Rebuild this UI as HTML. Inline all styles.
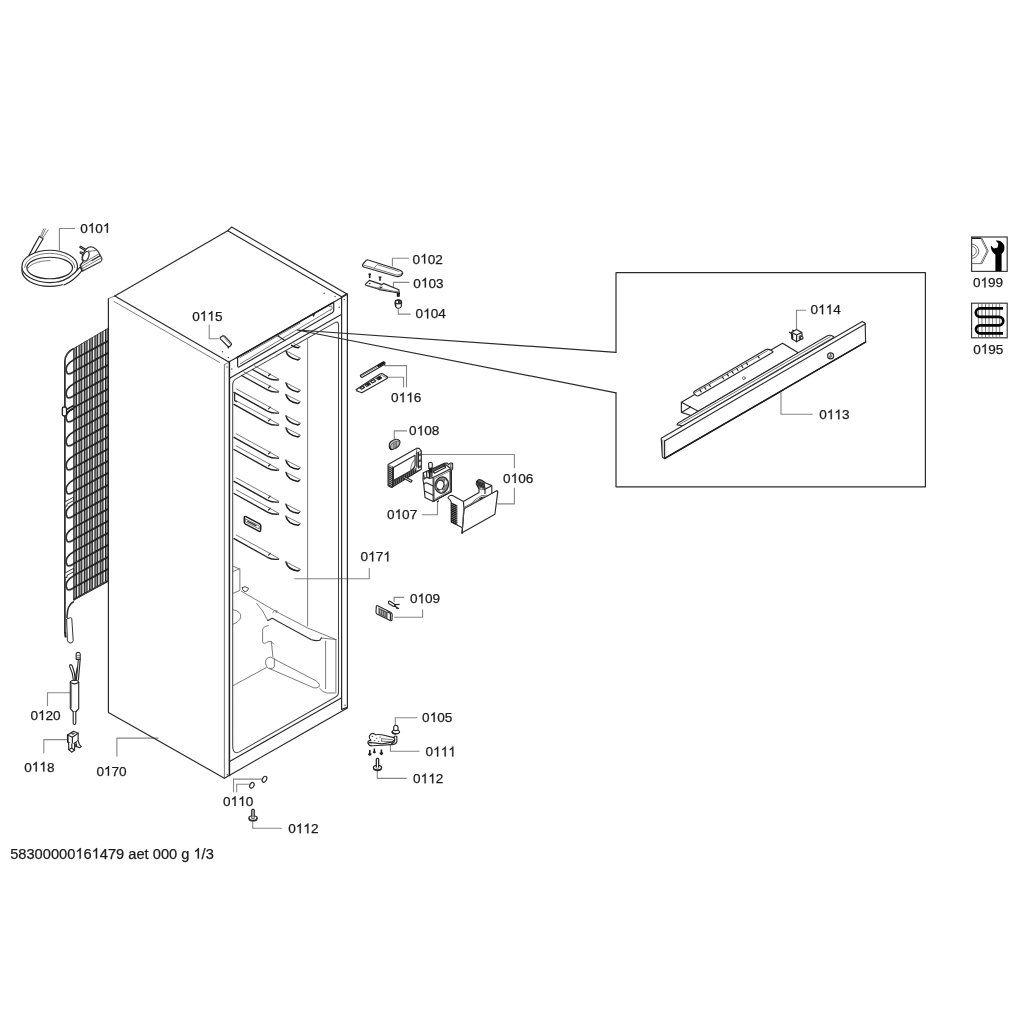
<!DOCTYPE html>
<html><head><meta charset="utf-8"><title>diagram</title>
<style>
html,body{margin:0;padding:0;background:#fff;}
body{width:1024px;height:1024px;overflow:hidden;font-family:"Liberation Sans",sans-serif;}
svg{display:block;position:absolute;left:0;top:0;filter:blur(0.35px)}
.m{fill:none;stroke:#2b2b2b;stroke-width:1.2;stroke-linecap:round;stroke-linejoin:round}
.mw{fill:#fff;stroke:#2b2b2b;stroke-width:1.15;stroke-linecap:round;stroke-linejoin:round}
.r{fill:none;stroke:#222;stroke-width:1.35;stroke-linecap:round;stroke-linejoin:round}
.t{fill:none;stroke:#5a5a5a;stroke-width:0.8;stroke-linecap:round;stroke-linejoin:round}
.tw{fill:#fff;stroke:#5a5a5a;stroke-width:0.8;stroke-linecap:round;stroke-linejoin:round}
.h{fill:none;stroke:#1e1e1e;stroke-width:1.5;stroke-linecap:round;stroke-linejoin:round}
.l{fill:none;stroke:#868686;stroke-width:1.1;stroke-linejoin:miter}
.k{fill:#1a1a1a;stroke:none}
.g{fill:#555;stroke:none}
.tx{font-family:"Liberation Sans",sans-serif;fill:#1a1a1a;stroke:#1a1a1a;stroke-width:0.25}
</style></head><body>
<svg width="1024" height="1024" viewBox="0 0 1024 1024">
<g opacity="0.99">
<text class="tx" x="80.20" y="232.80" font-size="13.6">0</text>
<path class="tx" transform="translate(87.76 232.80) scale(13.6)" style="stroke-width:0.0184" d="M0.3726 0L0.2847 0L0.2847 -0.5601Q0.2529 -0.5298 0.2014 -0.4995Q0.1499 -0.4692 0.1089 -0.4541L0.1089 -0.5391Q0.1826 -0.5737 0.2378 -0.6230Q0.2930 -0.6724 0.3159 -0.7188L0.3726 -0.7188Z"/>
<text class="tx" x="95.32" y="232.80" font-size="13.6">0</text>
<path class="tx" transform="translate(102.88 232.80) scale(13.6)" style="stroke-width:0.0184" d="M0.3726 0L0.2847 0L0.2847 -0.5601Q0.2529 -0.5298 0.2014 -0.4995Q0.1499 -0.4692 0.1089 -0.4541L0.1089 -0.5391Q0.1826 -0.5737 0.2378 -0.6230Q0.2930 -0.6724 0.3159 -0.7188L0.3726 -0.7188Z"/>
<text class="tx" x="412.60" y="263.60" font-size="13.6">0</text>
<path class="tx" transform="translate(420.16 263.60) scale(13.6)" style="stroke-width:0.0184" d="M0.3726 0L0.2847 0L0.2847 -0.5601Q0.2529 -0.5298 0.2014 -0.4995Q0.1499 -0.4692 0.1089 -0.4541L0.1089 -0.5391Q0.1826 -0.5737 0.2378 -0.6230Q0.2930 -0.6724 0.3159 -0.7188L0.3726 -0.7188Z"/>
<text class="tx" x="427.72" y="263.60" font-size="13.6">02</text>
<text class="tx" x="413.30" y="287.50" font-size="13.6">0</text>
<path class="tx" transform="translate(420.86 287.50) scale(13.6)" style="stroke-width:0.0184" d="M0.3726 0L0.2847 0L0.2847 -0.5601Q0.2529 -0.5298 0.2014 -0.4995Q0.1499 -0.4692 0.1089 -0.4541L0.1089 -0.5391Q0.1826 -0.5737 0.2378 -0.6230Q0.2930 -0.6724 0.3159 -0.7188L0.3726 -0.7188Z"/>
<text class="tx" x="428.42" y="287.50" font-size="13.6">03</text>
<text class="tx" x="415.60" y="318.40" font-size="13.6">0</text>
<path class="tx" transform="translate(423.16 318.40) scale(13.6)" style="stroke-width:0.0184" d="M0.3726 0L0.2847 0L0.2847 -0.5601Q0.2529 -0.5298 0.2014 -0.4995Q0.1499 -0.4692 0.1089 -0.4541L0.1089 -0.5391Q0.1826 -0.5737 0.2378 -0.6230Q0.2930 -0.6724 0.3159 -0.7188L0.3726 -0.7188Z"/>
<text class="tx" x="430.72" y="318.40" font-size="13.6">04</text>
<text class="tx" x="192.20" y="320.80" font-size="13.6">0</text>
<path class="tx" transform="translate(199.76 320.80) scale(13.6)" style="stroke-width:0.0184" d="M0.3726 0L0.2847 0L0.2847 -0.5601Q0.2529 -0.5298 0.2014 -0.4995Q0.1499 -0.4692 0.1089 -0.4541L0.1089 -0.5391Q0.1826 -0.5737 0.2378 -0.6230Q0.2930 -0.6724 0.3159 -0.7188L0.3726 -0.7188Z"/>
<path class="tx" transform="translate(207.32 320.80) scale(13.6)" style="stroke-width:0.0184" d="M0.3726 0L0.2847 0L0.2847 -0.5601Q0.2529 -0.5298 0.2014 -0.4995Q0.1499 -0.4692 0.1089 -0.4541L0.1089 -0.5391Q0.1826 -0.5737 0.2378 -0.6230Q0.2930 -0.6724 0.3159 -0.7188L0.3726 -0.7188Z"/>
<text class="tx" x="214.88" y="320.80" font-size="13.6">5</text>
<text class="tx" x="391.10" y="402.20" font-size="13.6">0</text>
<path class="tx" transform="translate(398.66 402.20) scale(13.6)" style="stroke-width:0.0184" d="M0.3726 0L0.2847 0L0.2847 -0.5601Q0.2529 -0.5298 0.2014 -0.4995Q0.1499 -0.4692 0.1089 -0.4541L0.1089 -0.5391Q0.1826 -0.5737 0.2378 -0.6230Q0.2930 -0.6724 0.3159 -0.7188L0.3726 -0.7188Z"/>
<path class="tx" transform="translate(406.22 402.20) scale(13.6)" style="stroke-width:0.0184" d="M0.3726 0L0.2847 0L0.2847 -0.5601Q0.2529 -0.5298 0.2014 -0.4995Q0.1499 -0.4692 0.1089 -0.4541L0.1089 -0.5391Q0.1826 -0.5737 0.2378 -0.6230Q0.2930 -0.6724 0.3159 -0.7188L0.3726 -0.7188Z"/>
<text class="tx" x="413.78" y="402.20" font-size="13.6">6</text>
<text class="tx" x="409.10" y="435.40" font-size="13.6">0</text>
<path class="tx" transform="translate(416.66 435.40) scale(13.6)" style="stroke-width:0.0184" d="M0.3726 0L0.2847 0L0.2847 -0.5601Q0.2529 -0.5298 0.2014 -0.4995Q0.1499 -0.4692 0.1089 -0.4541L0.1089 -0.5391Q0.1826 -0.5737 0.2378 -0.6230Q0.2930 -0.6724 0.3159 -0.7188L0.3726 -0.7188Z"/>
<text class="tx" x="424.22" y="435.40" font-size="13.6">08</text>
<text class="tx" x="503.10" y="483.10" font-size="13.6">0</text>
<path class="tx" transform="translate(510.66 483.10) scale(13.6)" style="stroke-width:0.0184" d="M0.3726 0L0.2847 0L0.2847 -0.5601Q0.2529 -0.5298 0.2014 -0.4995Q0.1499 -0.4692 0.1089 -0.4541L0.1089 -0.5391Q0.1826 -0.5737 0.2378 -0.6230Q0.2930 -0.6724 0.3159 -0.7188L0.3726 -0.7188Z"/>
<text class="tx" x="518.22" y="483.10" font-size="13.6">06</text>
<text class="tx" x="387.00" y="519.00" font-size="13.6">0</text>
<path class="tx" transform="translate(394.56 519.00) scale(13.6)" style="stroke-width:0.0184" d="M0.3726 0L0.2847 0L0.2847 -0.5601Q0.2529 -0.5298 0.2014 -0.4995Q0.1499 -0.4692 0.1089 -0.4541L0.1089 -0.5391Q0.1826 -0.5737 0.2378 -0.6230Q0.2930 -0.6724 0.3159 -0.7188L0.3726 -0.7188Z"/>
<text class="tx" x="402.12" y="519.00" font-size="13.6">07</text>
<text class="tx" x="360.60" y="561.40" font-size="13.6">0</text>
<path class="tx" transform="translate(368.16 561.40) scale(13.6)" style="stroke-width:0.0184" d="M0.3726 0L0.2847 0L0.2847 -0.5601Q0.2529 -0.5298 0.2014 -0.4995Q0.1499 -0.4692 0.1089 -0.4541L0.1089 -0.5391Q0.1826 -0.5737 0.2378 -0.6230Q0.2930 -0.6724 0.3159 -0.7188L0.3726 -0.7188Z"/>
<text class="tx" x="375.72" y="561.40" font-size="13.6">7</text>
<path class="tx" transform="translate(383.28 561.40) scale(13.6)" style="stroke-width:0.0184" d="M0.3726 0L0.2847 0L0.2847 -0.5601Q0.2529 -0.5298 0.2014 -0.4995Q0.1499 -0.4692 0.1089 -0.4541L0.1089 -0.5391Q0.1826 -0.5737 0.2378 -0.6230Q0.2930 -0.6724 0.3159 -0.7188L0.3726 -0.7188Z"/>
<text class="tx" x="409.90" y="603.30" font-size="13.6">0</text>
<path class="tx" transform="translate(417.46 603.30) scale(13.6)" style="stroke-width:0.0184" d="M0.3726 0L0.2847 0L0.2847 -0.5601Q0.2529 -0.5298 0.2014 -0.4995Q0.1499 -0.4692 0.1089 -0.4541L0.1089 -0.5391Q0.1826 -0.5737 0.2378 -0.6230Q0.2930 -0.6724 0.3159 -0.7188L0.3726 -0.7188Z"/>
<text class="tx" x="425.02" y="603.30" font-size="13.6">09</text>
<text class="tx" x="422.10" y="722.00" font-size="13.6">0</text>
<path class="tx" transform="translate(429.66 722.00) scale(13.6)" style="stroke-width:0.0184" d="M0.3726 0L0.2847 0L0.2847 -0.5601Q0.2529 -0.5298 0.2014 -0.4995Q0.1499 -0.4692 0.1089 -0.4541L0.1089 -0.5391Q0.1826 -0.5737 0.2378 -0.6230Q0.2930 -0.6724 0.3159 -0.7188L0.3726 -0.7188Z"/>
<text class="tx" x="437.22" y="722.00" font-size="13.6">05</text>
<text class="tx" x="425.60" y="756.40" font-size="13.6">0</text>
<path class="tx" transform="translate(433.16 756.40) scale(13.6)" style="stroke-width:0.0184" d="M0.3726 0L0.2847 0L0.2847 -0.5601Q0.2529 -0.5298 0.2014 -0.4995Q0.1499 -0.4692 0.1089 -0.4541L0.1089 -0.5391Q0.1826 -0.5737 0.2378 -0.6230Q0.2930 -0.6724 0.3159 -0.7188L0.3726 -0.7188Z"/>
<path class="tx" transform="translate(440.72 756.40) scale(13.6)" style="stroke-width:0.0184" d="M0.3726 0L0.2847 0L0.2847 -0.5601Q0.2529 -0.5298 0.2014 -0.4995Q0.1499 -0.4692 0.1089 -0.4541L0.1089 -0.5391Q0.1826 -0.5737 0.2378 -0.6230Q0.2930 -0.6724 0.3159 -0.7188L0.3726 -0.7188Z"/>
<path class="tx" transform="translate(448.28 756.40) scale(13.6)" style="stroke-width:0.0184" d="M0.3726 0L0.2847 0L0.2847 -0.5601Q0.2529 -0.5298 0.2014 -0.4995Q0.1499 -0.4692 0.1089 -0.4541L0.1089 -0.5391Q0.1826 -0.5737 0.2378 -0.6230Q0.2930 -0.6724 0.3159 -0.7188L0.3726 -0.7188Z"/>
<text class="tx" x="413.10" y="783.30" font-size="13.6">0</text>
<path class="tx" transform="translate(420.66 783.30) scale(13.6)" style="stroke-width:0.0184" d="M0.3726 0L0.2847 0L0.2847 -0.5601Q0.2529 -0.5298 0.2014 -0.4995Q0.1499 -0.4692 0.1089 -0.4541L0.1089 -0.5391Q0.1826 -0.5737 0.2378 -0.6230Q0.2930 -0.6724 0.3159 -0.7188L0.3726 -0.7188Z"/>
<path class="tx" transform="translate(428.22 783.30) scale(13.6)" style="stroke-width:0.0184" d="M0.3726 0L0.2847 0L0.2847 -0.5601Q0.2529 -0.5298 0.2014 -0.4995Q0.1499 -0.4692 0.1089 -0.4541L0.1089 -0.5391Q0.1826 -0.5737 0.2378 -0.6230Q0.2930 -0.6724 0.3159 -0.7188L0.3726 -0.7188Z"/>
<text class="tx" x="435.78" y="783.30" font-size="13.6">2</text>
<text class="tx" x="223.00" y="806.00" font-size="13.6">0</text>
<path class="tx" transform="translate(230.56 806.00) scale(13.6)" style="stroke-width:0.0184" d="M0.3726 0L0.2847 0L0.2847 -0.5601Q0.2529 -0.5298 0.2014 -0.4995Q0.1499 -0.4692 0.1089 -0.4541L0.1089 -0.5391Q0.1826 -0.5737 0.2378 -0.6230Q0.2930 -0.6724 0.3159 -0.7188L0.3726 -0.7188Z"/>
<path class="tx" transform="translate(238.12 806.00) scale(13.6)" style="stroke-width:0.0184" d="M0.3726 0L0.2847 0L0.2847 -0.5601Q0.2529 -0.5298 0.2014 -0.4995Q0.1499 -0.4692 0.1089 -0.4541L0.1089 -0.5391Q0.1826 -0.5737 0.2378 -0.6230Q0.2930 -0.6724 0.3159 -0.7188L0.3726 -0.7188Z"/>
<text class="tx" x="245.68" y="806.00" font-size="13.6">0</text>
<text class="tx" x="288.20" y="833.30" font-size="13.6">0</text>
<path class="tx" transform="translate(295.76 833.30) scale(13.6)" style="stroke-width:0.0184" d="M0.3726 0L0.2847 0L0.2847 -0.5601Q0.2529 -0.5298 0.2014 -0.4995Q0.1499 -0.4692 0.1089 -0.4541L0.1089 -0.5391Q0.1826 -0.5737 0.2378 -0.6230Q0.2930 -0.6724 0.3159 -0.7188L0.3726 -0.7188Z"/>
<path class="tx" transform="translate(303.32 833.30) scale(13.6)" style="stroke-width:0.0184" d="M0.3726 0L0.2847 0L0.2847 -0.5601Q0.2529 -0.5298 0.2014 -0.4995Q0.1499 -0.4692 0.1089 -0.4541L0.1089 -0.5391Q0.1826 -0.5737 0.2378 -0.6230Q0.2930 -0.6724 0.3159 -0.7188L0.3726 -0.7188Z"/>
<text class="tx" x="310.88" y="833.30" font-size="13.6">2</text>
<text class="tx" x="30.40" y="720.00" font-size="13.6">0</text>
<path class="tx" transform="translate(37.96 720.00) scale(13.6)" style="stroke-width:0.0184" d="M0.3726 0L0.2847 0L0.2847 -0.5601Q0.2529 -0.5298 0.2014 -0.4995Q0.1499 -0.4692 0.1089 -0.4541L0.1089 -0.5391Q0.1826 -0.5737 0.2378 -0.6230Q0.2930 -0.6724 0.3159 -0.7188L0.3726 -0.7188Z"/>
<text class="tx" x="45.52" y="720.00" font-size="13.6">20</text>
<text class="tx" x="24.20" y="771.50" font-size="13.6">0</text>
<path class="tx" transform="translate(31.76 771.50) scale(13.6)" style="stroke-width:0.0184" d="M0.3726 0L0.2847 0L0.2847 -0.5601Q0.2529 -0.5298 0.2014 -0.4995Q0.1499 -0.4692 0.1089 -0.4541L0.1089 -0.5391Q0.1826 -0.5737 0.2378 -0.6230Q0.2930 -0.6724 0.3159 -0.7188L0.3726 -0.7188Z"/>
<path class="tx" transform="translate(39.32 771.50) scale(13.6)" style="stroke-width:0.0184" d="M0.3726 0L0.2847 0L0.2847 -0.5601Q0.2529 -0.5298 0.2014 -0.4995Q0.1499 -0.4692 0.1089 -0.4541L0.1089 -0.5391Q0.1826 -0.5737 0.2378 -0.6230Q0.2930 -0.6724 0.3159 -0.7188L0.3726 -0.7188Z"/>
<text class="tx" x="46.88" y="771.50" font-size="13.6">8</text>
<text class="tx" x="96.40" y="775.80" font-size="13.6">0</text>
<path class="tx" transform="translate(103.96 775.80) scale(13.6)" style="stroke-width:0.0184" d="M0.3726 0L0.2847 0L0.2847 -0.5601Q0.2529 -0.5298 0.2014 -0.4995Q0.1499 -0.4692 0.1089 -0.4541L0.1089 -0.5391Q0.1826 -0.5737 0.2378 -0.6230Q0.2930 -0.6724 0.3159 -0.7188L0.3726 -0.7188Z"/>
<text class="tx" x="111.52" y="775.80" font-size="13.6">70</text>
<text class="tx" x="810.50" y="314.30" font-size="13.6">0</text>
<path class="tx" transform="translate(818.06 314.30) scale(13.6)" style="stroke-width:0.0184" d="M0.3726 0L0.2847 0L0.2847 -0.5601Q0.2529 -0.5298 0.2014 -0.4995Q0.1499 -0.4692 0.1089 -0.4541L0.1089 -0.5391Q0.1826 -0.5737 0.2378 -0.6230Q0.2930 -0.6724 0.3159 -0.7188L0.3726 -0.7188Z"/>
<path class="tx" transform="translate(825.62 314.30) scale(13.6)" style="stroke-width:0.0184" d="M0.3726 0L0.2847 0L0.2847 -0.5601Q0.2529 -0.5298 0.2014 -0.4995Q0.1499 -0.4692 0.1089 -0.4541L0.1089 -0.5391Q0.1826 -0.5737 0.2378 -0.6230Q0.2930 -0.6724 0.3159 -0.7188L0.3726 -0.7188Z"/>
<text class="tx" x="833.18" y="314.30" font-size="13.6">4</text>
<text class="tx" x="819.20" y="419.20" font-size="13.6">0</text>
<path class="tx" transform="translate(826.76 419.20) scale(13.6)" style="stroke-width:0.0184" d="M0.3726 0L0.2847 0L0.2847 -0.5601Q0.2529 -0.5298 0.2014 -0.4995Q0.1499 -0.4692 0.1089 -0.4541L0.1089 -0.5391Q0.1826 -0.5737 0.2378 -0.6230Q0.2930 -0.6724 0.3159 -0.7188L0.3726 -0.7188Z"/>
<path class="tx" transform="translate(834.32 419.20) scale(13.6)" style="stroke-width:0.0184" d="M0.3726 0L0.2847 0L0.2847 -0.5601Q0.2529 -0.5298 0.2014 -0.4995Q0.1499 -0.4692 0.1089 -0.4541L0.1089 -0.5391Q0.1826 -0.5737 0.2378 -0.6230Q0.2930 -0.6724 0.3159 -0.7188L0.3726 -0.7188Z"/>
<text class="tx" x="841.88" y="419.20" font-size="13.6">3</text>
<text class="tx" x="972.90" y="287.40" font-size="13.6">0</text>
<path class="tx" transform="translate(980.46 287.40) scale(13.6)" style="stroke-width:0.0184" d="M0.3726 0L0.2847 0L0.2847 -0.5601Q0.2529 -0.5298 0.2014 -0.4995Q0.1499 -0.4692 0.1089 -0.4541L0.1089 -0.5391Q0.1826 -0.5737 0.2378 -0.6230Q0.2930 -0.6724 0.3159 -0.7188L0.3726 -0.7188Z"/>
<text class="tx" x="988.02" y="287.40" font-size="13.6">99</text>
<text class="tx" x="973.20" y="353.70" font-size="13.6">0</text>
<path class="tx" transform="translate(980.76 353.70) scale(13.6)" style="stroke-width:0.0184" d="M0.3726 0L0.2847 0L0.2847 -0.5601Q0.2529 -0.5298 0.2014 -0.4995Q0.1499 -0.4692 0.1089 -0.4541L0.1089 -0.5391Q0.1826 -0.5737 0.2378 -0.6230Q0.2930 -0.6724 0.3159 -0.7188L0.3726 -0.7188Z"/>
<text class="tx" x="988.32" y="353.70" font-size="13.6">95</text>
<text class="tx" x="10.20" y="858.60" font-size="14.65">58300000</text>
<path class="tx" transform="translate(75.36 858.60) scale(14.65)" style="stroke-width:0.0171" d="M0.3726 0L0.2847 0L0.2847 -0.5601Q0.2529 -0.5298 0.2014 -0.4995Q0.1499 -0.4692 0.1089 -0.4541L0.1089 -0.5391Q0.1826 -0.5737 0.2378 -0.6230Q0.2930 -0.6724 0.3159 -0.7188L0.3726 -0.7188Z"/>
<text class="tx" x="83.51" y="858.60" font-size="14.65">6</text>
<path class="tx" transform="translate(91.65 858.60) scale(14.65)" style="stroke-width:0.0171" d="M0.3726 0L0.2847 0L0.2847 -0.5601Q0.2529 -0.5298 0.2014 -0.4995Q0.1499 -0.4692 0.1089 -0.4541L0.1089 -0.5391Q0.1826 -0.5737 0.2378 -0.6230Q0.2930 -0.6724 0.3159 -0.7188L0.3726 -0.7188Z"/>
<text class="tx" x="99.80" y="858.60" font-size="14.65">479</text>
<text class="tx" x="128.31" y="858.60" font-size="14.65">aet</text>
<text class="tx" x="152.74" y="858.60" font-size="14.65">000</text>
<text class="tx" x="181.25" y="858.60" font-size="14.65">g</text>
<path class="tx" transform="translate(193.47 858.60) scale(14.65)" style="stroke-width:0.0171" d="M0.3726 0L0.2847 0L0.2847 -0.5601Q0.2529 -0.5298 0.2014 -0.4995Q0.1499 -0.4692 0.1089 -0.4541L0.1089 -0.5391Q0.1826 -0.5737 0.2378 -0.6230Q0.2930 -0.6724 0.3159 -0.7188L0.3726 -0.7188Z"/>
<text class="tx" x="201.62" y="858.60" font-size="14.65">/3</text>
</g>
<path class="l" d="M75.00 228.50L59.40 228.50L59.40 250.60" />
<path class="l" d="M408.90 258.30L392.40 258.30L392.40 266.30" />
<path class="l" d="M409.30 282.40L393.50 282.40L393.50 287.30" />
<path class="l" d="M398.30 308.20L398.30 314.10L410.70 314.10" />
<path class="l" d="M209.25 324.50L209.25 338.75L218.75 338.75" />
<path class="l" d="M384.10 365.60L406.50 365.60L406.50 387.60" />
<path class="l" d="M387.50 377.30L403.60 377.30L403.60 387.60" />
<path class="l" d="M407.00 430.90L394.30 430.90L394.30 438.90" />
<path class="l" d="M421.40 454.50L514.40 454.50L514.40 468.30" />
<path class="l" d="M514.40 487.80L514.40 503.90L497.20 503.90" />
<path class="l" d="M421.90 514.80L437.50 514.80L437.50 501.10" />
<path class="l" d="M369.30 568.10L369.30 578.80L294.30 578.80" />
<path class="l" d="M404.20 597.40L394.10 597.40L394.10 602.10" />
<path class="l" d="M422.60 609.40L422.60 617.30L394.10 617.30" />
<path class="l" d="M417.30 717.70L395.30 717.70L395.30 725.20" />
<path class="l" d="M390.40 744.60L390.40 751.30L419.50 751.30" />
<path class="l" d="M377.30 770.40L377.30 778.40L406.60 778.40" />
<path class="l" d="M261.90 779.10L233.50 779.10L233.50 792.20" />
<path class="l" d="M249.60 784.30L236.70 784.30L236.70 792.20" />
<path class="l" d="M252.70 820.70L252.70 828.30L281.80 828.30" />
<path class="l" d="M70.20 692.80L47.50 692.80L47.50 705.90" />
<path class="l" d="M66.90 739.60L43.80 739.60L43.80 753.30" />
<path class="l" d="M158.50 738.10L116.90 738.10L116.90 756.50" />
<path class="l" d="M806.10 310.20L796.50 310.20L796.50 330.00" />
<path class="l" d="M781.00 392.20L781.00 414.20L812.80 414.20" />
<path class="m" d="M616.00 352.30L616.00 272.60L925.40 272.60L925.40 486.80L616.00 486.80L616.00 392.80" />
<path class="m" d="M616.00 352.30L297.20 330.00L616.00 392.80" />
<path class="m" d="M224.40 778.20L108.40 712.40L108.40 298.60" />
<path class="t" d="M108.40 298.60L114.80 296.00" />
<path class="m" d="M114.80 296.00L227.70 230.80L231.60 227.10L347.40 294.20L347.40 708.00L224.40 778.20" />
<path class="m" d="M114.80 296.00L228.80 362.00" />
<path class="t" d="M114.10 301.50L219.50 362.40" />
<path class="m" d="M227.70 230.80L341.60 296.70" />
<path class="m" d="M228.80 362.00L347.40 294.20" />
<path class="t" d="M224.40 364.70L224.40 778.00"/>
<path class="h" d="M229.40 362.00L229.40 775.50"/>
<path class="m" d="M341.60 296.70L341.60 709.40"/>
<path class="m" d="M341.60 709.40L347.40 707.40"/>
<path class="t" d="M224.40 364.70L228.80 362.40" />
<path class="m" d="M341.60 296.70L347.00 293.90" />
<path class="m" d="M229.60 378.20L341.30 314.60"/>
<path class="m" d="M232.7 745.5 L232.7 384.8 Q232.7 380.6 236.3 378.6 L335.0 322.6 Q338.5 320.7 338.5 324.8 L338.5 692.0 Q338.5 695.4 335.6 697.0 L239.8 751.6 Q232.7 755.4 232.7 745.5Z" style="stroke:#444;stroke-width:1.05"/>
<path class="m" d="M229.60 761.40L341.30 698.00"/>
<path class="t" d="M307.60 339.50L307.60 626.00"/>
<path class="m" d="M237.6 356.97 L237.6 365.4 Q237.6 368.0 239.8 366.6 L332.2 312.8 Q333.7 311.8 333.7 310.2 L333.7 302.03" />
<path class="h" d="M237.0 357.61 L332.6 302.96" />
<path class="t" d="M240.0 357.50 L300.0 323.19" />
<path class="t" d="M240.20 363.80L331.00 309.40"/>
<path class="m" d="M277.80 335.80L284.80 340.60"/>
<path class="t" d="M329.0 306.6 l2.6 -0.6 l0.6 2.6 l-1.6 1.8" />
<path class="k" d="M312.2 314.7 L315.2 313.0 L313.8 317.2Z" />
<circle class="g" cx="324.2" cy="293.3" r="0.75"/>
<circle class="g" cx="335.1" cy="296.4" r="0.75"/>
<circle class="g" cx="344.3" cy="299.5" r="0.75"/>
<circle class="g" cx="339.1" cy="307.3" r="0.75"/>
<circle class="g" cx="222.5" cy="351.8" r="0.75"/>
<circle class="g" cx="228.3" cy="357.6" r="0.75"/>
<circle class="g" cx="231.8" cy="368.9" r="0.75"/>
<circle class="g" cx="227.0" cy="367.0" r="0.75"/>
<circle class="g" cx="345.0" cy="705.3" r="0.75"/>
<circle class="g" cx="227.3" cy="774.8" r="0.75"/>
<path class="mw" d="M220.4 337.2 L222.6 335.9 Q224.0 335.3 225.2 336.6 L231.3 343.3 Q232.0 344.6 230.8 345.6 L229.6 346.4 Q228.4 347.0 227.4 346.0 L220.4 338.9 Q219.7 337.9 220.4 337.2Z" />
<path class="t" d="M222.90 336.00L230.50 344.60"/>
<circle class="k" cx="228.4" cy="347.6" r="0.9"/>
<path class="r" d="M252.40 369.50 L267.50 377.92 Q272.50 380.52 278.40 379.92" />
<path class="t" d="M278.40 379.92 L279.00 379.22 L270.10 374.22" />
<path class="m" d="M270.30 374.02 L268.50 375.72" />
<path class="t" d="M254.60 365.90L270.10 374.12"/>
<path class="r" d="M241.60 375.50 L267.50 389.94 Q272.50 392.54 278.40 391.94" />
<path class="t" d="M278.40 391.94 L279.00 391.24 L270.10 386.24" />
<path class="m" d="M270.30 386.04 L268.50 387.74" />
<path class="t" d="M243.80 371.90L270.10 386.14"/>
<path class="r" d="M234.00 392.40 L267.50 411.08 Q272.50 413.68 278.40 413.08" />
<path class="t" d="M278.40 413.08 L279.00 412.38 L270.10 407.38" />
<path class="m" d="M270.30 407.18 L268.50 408.88" />
<path class="t" d="M236.20 388.80L270.10 407.28"/>
<path class="r" d="M234.00 404.40 L267.50 423.08 Q272.50 425.68 278.40 425.08" />
<path class="t" d="M278.40 425.08 L279.00 424.38 L270.10 419.38" />
<path class="m" d="M270.30 419.18 L268.50 420.88" />
<path class="t" d="M236.20 400.80L270.10 419.28"/>
<path class="r" d="M234.00 437.40 L267.50 456.08 Q272.50 458.68 278.40 458.08" />
<path class="t" d="M278.40 458.08 L279.00 457.38 L270.10 452.38" />
<path class="m" d="M270.30 452.18 L268.50 453.88" />
<path class="t" d="M236.20 433.80L270.10 452.28"/>
<path class="r" d="M234.00 449.50 L267.50 468.18 Q272.50 470.78 278.40 470.18" />
<path class="t" d="M278.40 470.18 L279.00 469.48 L270.10 464.48" />
<path class="m" d="M270.30 464.28 L268.50 465.98" />
<path class="t" d="M236.20 445.90L270.10 464.38"/>
<path class="r" d="M234.00 481.40 L267.50 500.08 Q272.50 502.68 278.40 502.08" />
<path class="t" d="M278.40 502.08 L279.00 501.38 L270.10 496.38" />
<path class="m" d="M270.30 496.18 L268.50 497.88" />
<path class="t" d="M236.20 477.80L270.10 496.28"/>
<path class="r" d="M234.00 493.50 L267.50 512.18 Q272.50 514.78 278.40 514.18" />
<path class="t" d="M278.40 514.18 L279.00 513.48 L270.10 508.48" />
<path class="m" d="M270.30 508.28 L268.50 509.98" />
<path class="t" d="M236.20 489.90L270.10 508.38"/>
<path class="r" d="M234.00 538.60 L267.50 557.28 Q272.50 559.88 278.40 559.28" />
<path class="t" d="M278.40 559.28 L279.00 558.58 L270.10 553.58" />
<path class="m" d="M270.30 553.38 L268.50 555.08" />
<path class="t" d="M236.20 535.00L270.10 553.48"/>
<path class="m" d="M234.60 393.60L234.60 400.60L236.60 401.60" />
<path class="h" d="M286.00 382.90 Q287.60 390.30 298.00 391.90 L299.20 391.10" />
<path class="t" d="M286.00 382.90L300.60 390.30"/>
<path class="h" d="M286.00 394.50 Q287.60 401.90 298.00 403.50 L299.20 402.70" />
<path class="t" d="M286.00 394.50L300.60 401.90"/>
<path class="h" d="M286.00 415.90 Q287.60 423.30 298.00 424.90 L299.20 424.10" />
<path class="t" d="M286.00 415.90L300.60 423.30"/>
<path class="h" d="M286.00 427.90 Q287.60 435.30 298.00 436.90 L299.20 436.10" />
<path class="t" d="M286.00 427.90L300.60 435.30"/>
<path class="h" d="M286.00 460.30 Q287.60 467.70 298.00 469.30 L299.20 468.50" />
<path class="t" d="M286.00 460.30L300.60 467.70"/>
<path class="h" d="M286.00 472.40 Q287.60 479.80 298.00 481.40 L299.20 480.60" />
<path class="t" d="M286.00 472.40L300.60 479.80"/>
<path class="h" d="M286.00 504.30 Q287.60 511.70 298.00 513.30 L299.20 512.50" />
<path class="t" d="M286.00 504.30L300.60 511.70"/>
<path class="h" d="M286.00 516.30 Q287.60 523.70 298.00 525.30 L299.20 524.50" />
<path class="t" d="M286.00 516.30L300.60 523.70"/>
<path class="h" d="M286.00 562.00 Q287.60 569.40 298.00 571.00 L299.20 570.20" />
<path class="t" d="M286.00 562.00L300.60 569.40"/>
<path class="h" d="M291.6 345.4 Q294.6 347.4 298.0 347.8 L299.2 347.0" />
<path class="t" d="M294.00 343.60L300.60 346.90"/>
<path class="h" d="M286.00 350.90 Q287.60 358.30 298.00 359.90 L299.20 359.10" />
<path class="t" d="M286.00 350.90L300.60 358.30"/>
<path class="h" d="M244.3 518.0 Q244.1 516.0 246.0 516.6 L259.6 523.8 Q260.8 524.6 260.8 526.0 L260.6 530.4 Q260.4 532.0 258.8 531.2 L245.6 524.2 Q244.3 523.4 244.3 522.0Z" />
<path class="t" d="M245.8 519.0 L259.2 526.0 L259.2 529.0 L245.8 522.0Z" />
<path class="m" d="M247.50 521.20L256.00 525.60"/>
<path class="t" d="M233.00 566.20L239.90 569.20L239.90 590.40L233.00 593.40" />
<path class="t" d="M233.00 571.60L239.90 568.60"/>
<path class="m" d="M242.3 587.6 Q244.6 585.2 248.4 588.2 Q248.0 592.0 244.2 591.4 Q242.2 590.0 242.3 587.6Z" style="stroke:#444;stroke-width:1"/>
<path class="t" d="M241.4 591.2 L276.5 611.7 L307.3 627.8 L335.9 639.5" />
<path class="t" d="M272.8 612.4 l2.0 -1.8 l2.6 0.6 l-1.4 1.6" />
<path class="t" d="M233.0 609.6 Q241.6 611.4 240.7 617.2 Q239.6 622.0 233.0 624.2" />
<path class="t" d="M256.8 603.6 Q262.8 609.6 267.8 620.5" />
<path class="r" d="M267.8 620.5 L272.2 618.3 L311.0 639.5 Q316.0 641.4 319.8 640.2 L321.4 638.0" style="stroke:#333;stroke-width:1.2"/>
<path class="t" d="M321.4 638.0 L335.9 639.5" />
<path class="t" d="M335.90 639.50L335.90 692.30"/>
<path class="t" d="M325.60 641.00L325.60 688.60"/>
<path class="t" d="M268.5 625.6 Q261.8 626.6 262.6 631.0 L262.6 642.4 Q264.0 644.4 266.4 642.6 Q269.0 640.6 271.4 641.7 L273.6 644.0 M271.4 641.7 L272.9 657.1" />
<path class="t" d="M270.0 657.1 Q265.2 657.6 265.6 663.0 Q266.2 668.0 270.0 668.8 L313.9 687.9 Q317.4 688.4 319.2 686.6 Q320.6 684.4 316.8 681.3Z" />
<path class="t" d="M274.4 658.8 L274.4 666.6 Q273.0 668.6 270.0 668.8" />
<path class="t" d="M233.00 685.70L266.30 667.60"/>
<path class="t" d="M319.8 688.6 Q323.0 692.6 327.1 693.0 L335.2 693.0" />
<g>
<path d="M73.30 359.79L108.20 340.80" fill="none" stroke="#303030" stroke-width="1.9"/>
<path d="M73.30 371.79L108.20 352.80" fill="none" stroke="#303030" stroke-width="1.9"/>
<path d="M73.30 383.79L108.20 364.80" fill="none" stroke="#303030" stroke-width="1.9"/>
<path d="M73.30 395.79L108.20 376.80" fill="none" stroke="#303030" stroke-width="1.9"/>
<path d="M73.30 407.79L108.20 388.80" fill="none" stroke="#303030" stroke-width="1.9"/>
<path d="M73.30 419.79L108.20 400.80" fill="none" stroke="#303030" stroke-width="1.9"/>
<path d="M73.30 431.79L108.20 412.80" fill="none" stroke="#303030" stroke-width="1.9"/>
<path d="M73.30 443.79L108.20 424.80" fill="none" stroke="#303030" stroke-width="1.9"/>
<path d="M73.30 455.79L108.20 436.80" fill="none" stroke="#303030" stroke-width="1.9"/>
<path d="M73.30 467.79L108.20 448.80" fill="none" stroke="#303030" stroke-width="1.9"/>
<path d="M73.30 479.79L108.20 460.80" fill="none" stroke="#303030" stroke-width="1.9"/>
<path d="M73.30 491.79L108.20 472.80" fill="none" stroke="#303030" stroke-width="1.9"/>
<path d="M73.30 503.79L108.20 484.80" fill="none" stroke="#303030" stroke-width="1.9"/>
<path d="M73.30 515.79L108.20 496.80" fill="none" stroke="#303030" stroke-width="1.9"/>
<path d="M73.30 527.79L108.20 508.80" fill="none" stroke="#303030" stroke-width="1.9"/>
<path d="M73.30 539.79L108.20 520.80" fill="none" stroke="#303030" stroke-width="1.9"/>
<path d="M73.30 551.79L108.20 532.80" fill="none" stroke="#303030" stroke-width="1.9"/>
<path d="M73.30 563.79L108.20 544.80" fill="none" stroke="#303030" stroke-width="1.9"/>
<path d="M73.30 575.79L108.20 556.80" fill="none" stroke="#303030" stroke-width="1.9"/>
<path d="M73.30 587.79L108.20 568.80" fill="none" stroke="#303030" stroke-width="1.9"/>
<path d="M73.30 599.79L108.20 580.80" fill="none" stroke="#303030" stroke-width="1.9"/>
<path d="M73.80 359.79 C67.80 362.99 64.30 367.79 67.20 373.19 C68.80 374.99 71.80 373.19 73.80 371.79" fill="none" stroke="#303030" stroke-width="1.7"/>
<path d="M73.80 383.79 C67.80 386.99 64.30 391.79 67.20 397.19 C68.80 398.99 71.80 397.19 73.80 395.79" fill="none" stroke="#303030" stroke-width="1.7"/>
<path d="M73.80 407.79 C67.80 410.99 64.30 415.79 67.20 421.19 C68.80 422.99 71.80 421.19 73.80 419.79" fill="none" stroke="#303030" stroke-width="1.7"/>
<path d="M73.80 431.79 C67.80 434.99 64.30 439.79 67.20 445.19 C68.80 446.99 71.80 445.19 73.80 443.79" fill="none" stroke="#303030" stroke-width="1.7"/>
<path d="M73.80 455.79 C67.80 458.99 64.30 463.79 67.20 469.19 C68.80 470.99 71.80 469.19 73.80 467.79" fill="none" stroke="#303030" stroke-width="1.7"/>
<path d="M73.80 479.79 C67.80 482.99 64.30 487.79 67.20 493.19 C68.80 494.99 71.80 493.19 73.80 491.79" fill="none" stroke="#303030" stroke-width="1.7"/>
<path d="M73.80 503.79 C67.80 506.99 64.30 511.79 67.20 517.19 C68.80 518.99 71.80 517.19 73.80 515.79" fill="none" stroke="#303030" stroke-width="1.7"/>
<path d="M73.80 527.79 C67.80 530.99 64.30 535.79 67.20 541.19 C68.80 542.99 71.80 541.19 73.80 539.79" fill="none" stroke="#303030" stroke-width="1.7"/>
<path d="M73.80 551.79 C67.80 554.99 64.30 559.79 67.20 565.19 C68.80 566.99 71.80 565.19 73.80 563.79" fill="none" stroke="#303030" stroke-width="1.7"/>
<path d="M73.80 575.79 C67.80 578.99 64.30 583.79 67.20 589.19 C68.80 590.99 71.80 589.19 73.80 587.79" fill="none" stroke="#303030" stroke-width="1.7"/>
<path d="M73.80 348.50L108.20 328.31L108.20 580.00L73.80 600.30Z" fill="#000" fill-opacity="0.08" stroke="none"/>
<path d="M73.80 348.50L76.45 346.95L76.45 598.74L73.80 600.30Z" fill="#000" fill-opacity="0.38" stroke="none"/>
<path d="M73.80 348.00L73.80 600.30" fill="none" stroke="#262626" stroke-width="1.1"/>
<path d="M76.45 346.45L76.45 598.74" fill="none" stroke="#262626" stroke-width="1.1"/>
<path d="M79.09 345.39L81.74 343.84L81.74 595.62L79.09 597.18Z" fill="#000" fill-opacity="0.38" stroke="none"/>
<path d="M79.09 344.89L79.09 597.18" fill="none" stroke="#262626" stroke-width="1.1"/>
<path d="M81.74 343.34L81.74 595.62" fill="none" stroke="#262626" stroke-width="1.1"/>
<path d="M84.38 342.29L87.03 340.73L87.03 592.49L84.38 594.06Z" fill="#000" fill-opacity="0.38" stroke="none"/>
<path d="M84.38 341.79L84.38 594.06" fill="none" stroke="#262626" stroke-width="1.1"/>
<path d="M87.03 340.23L87.03 592.49" fill="none" stroke="#262626" stroke-width="1.1"/>
<path d="M89.68 339.18L92.32 337.63L92.32 589.37L89.68 590.93Z" fill="#000" fill-opacity="0.38" stroke="none"/>
<path d="M89.68 338.68L89.68 590.93" fill="none" stroke="#262626" stroke-width="1.1"/>
<path d="M92.32 337.13L92.32 589.37" fill="none" stroke="#262626" stroke-width="1.1"/>
<path d="M94.97 336.07L97.62 334.52L97.62 586.25L94.97 587.81Z" fill="#000" fill-opacity="0.38" stroke="none"/>
<path d="M94.97 335.57L94.97 587.81" fill="none" stroke="#262626" stroke-width="1.1"/>
<path d="M97.62 334.02L97.62 586.25" fill="none" stroke="#262626" stroke-width="1.1"/>
<path d="M100.26 332.97L102.91 331.41L102.91 583.13L100.26 584.69Z" fill="#000" fill-opacity="0.38" stroke="none"/>
<path d="M100.26 332.47L100.26 584.69" fill="none" stroke="#262626" stroke-width="1.1"/>
<path d="M102.91 330.91L102.91 583.13" fill="none" stroke="#262626" stroke-width="1.1"/>
<path d="M105.55 329.86L108.20 328.31L108.20 580.00L105.55 581.57Z" fill="#000" fill-opacity="0.38" stroke="none"/>
<path d="M105.55 329.36L105.55 581.57" fill="none" stroke="#262626" stroke-width="1.1"/>
<path d="M108.20 327.81L108.20 580.00" fill="none" stroke="#262626" stroke-width="1.1"/>
<path d="M73.80 348.50L108.20 328.31" fill="none" stroke="#444" stroke-width="1.0"/>
<path d="M73.80 600.30L108.20 580.00" fill="none" stroke="#444" stroke-width="1.0"/>
<path d="M73.80 348.50 C68.5 351.0 64.9 355.0 64.9 361.5 L64.9 632.0" fill="none" stroke="#333" stroke-width="1.8"/>
<path d="M73.8 601.5 C69.0 604.0 67.3 608.0 67.0 618.0" fill="none" stroke="#333" stroke-width="1.6"/>
<rect x="62.3" y="407.0" width="4.2" height="9.0" rx="1.8" fill="#fff" stroke="#222" stroke-width="1.3"/>
<path d="M66.5 409.5 L73.6 405.5 M66.5 412.6 L73.6 408.6" fill="none" stroke="#222" stroke-width="1.5"/>
<path d="M65.0 501.8 L73.5 497.2 L73.5 500.6 L67.0 504.2 L67.0 506.2 L65.0 506.0Z" fill="#fff" stroke="#222" stroke-width="0.9"/>
<path d="M65.0 573.0 L73.5 568.4 L73.5 571.8 L67.0 575.4 L67.0 577.6 L65.0 577.4Z" fill="#fff" stroke="#222" stroke-width="0.9"/>
<path d="M66.6 619.0 L70.6 617.6 Q71.6 617.6 71.8 618.8 L73.2 640.6 Q72.8 643.4 70.0 643.0 Q67.6 642.4 67.4 640.0Z" fill="#fff" stroke="#333" stroke-width="1.0"/>
<path d="M65.0 632.0 L65.6 637.5" fill="none" stroke="#222" stroke-width="2.0"/>
</g>
<path class="m" d="M28.8 255.6 L39.4 236.3 L43.1 238.8 L34.6 253.0" />
<path class="t" d="M40.2 237.0 L43.8 228.8 M41.4 237.6 L45.6 228.8 M42.4 238.4 L48.1 230.0" />
<ellipse class="m" cx="49.7" cy="270.2" rx="27.8" ry="16.2"/>
<ellipse class="mw" cx="49.7" cy="266.4" rx="27.8" ry="16.2"/>
<path class="t" d="M24.7 267.5 A25.0 14.2 0 0 1 74.7 267.5" />
<ellipse class="m" cx="49.7" cy="268.0" rx="22.8" ry="10.75"/>
<path class="t" d="M27.3 270.0 A22.6 9.6 0 0 1 50 260.6" />
<path class="mw" d="M58.0 282.0 Q70.0 279.6 80.2 266.9 L81.8 270.8 Q74.0 280.6 64.0 285.0" />
<path class="mw" d="M82.2 271.2 L80.2 265.0 L83.3 261.4 Q81.6 259.4 82.0 257.5 Q82.4 254.8 83.7 252.8 Q85.0 250.2 86.8 248.5 Q88.6 247.0 90.75 246.8 Q93.8 247.0 96.2 249.3 Q98.2 251.2 99.3 253.6 L101.9 258.3 Q102.3 260.4 100.9 261.4Z" />
<path class="t" d="M80.2 265.0 L99.3 253.6 M81.8 266.3 L100.3 255.4 M82.9 268.2 L101.6 257.8" />
<path class="k" d="M80.2 265.0 L82.2 271.2 L84.0 270.2 L81.8 264.2Z" fill-opacity="0.35"/>
<ellipse class="m" cx="85.9" cy="256.2" rx="2.7" ry="4.9" transform="rotate(22 85.9 256.2)" style="stroke-width:0.9"/>
<path class="t" d="M88.6 258.6 Q89.6 253.6 88.8 250.4 M89.0 251.4 L97.0 250.4" />
<path class="m" d="M92.0 260.4 L99.6 256.0" />
<path class="mw" d="M85.7 249.3 L80.6 246.2 Q79.6 246.4 79.9 247.6 L84.9 250.6" />
<path class="mw" d="M82.6 254.4 L80.6 253.2 Q79.8 252.6 80.4 252.0 Q81.0 251.6 82.0 252.2 L83.2 253.0" />
<path class="mw" d="M362.6 266.0 Q362.0 264.8 363.0 264.0 L366.4 260.2 Q367.2 259.6 368.2 260.0 L399.6 270.0 Q403.2 271.6 402.6 273.6 Q401.6 276.4 398.0 276.6 Q397.0 276.8 395.6 276.2 L363.6 267.0Z" />
<path class="t" d="M363.2 265.0 L396.6 275.0 Q400.4 275.4 402.4 273.0" />
<path class="t" d="M374.6 267.4 L377.4 264.6 L399.0 271.4" />
<path class="k" d="M368.4 273.6 h2.6 v1.4 h-0.5 v3.0 h-1.6 v-3.0 h-0.5z" />
<path class="k" d="M378.6 276.4 h2.8 v1.4 h-0.6 v3.0 h-1.6 v-3.0 h-0.6z" />
<path class="mw" d="M365.6 284.2 L369.4 280.4 L382.0 284.6 L383.4 283.4 L398.8 289.8 L399.4 293.8 L397.0 292.8 L379.2 289.6 L378.0 289.0 L365.8 285.2Z" />
<path class="t" d="M365.8 285.2 L378.4 288.2 L382.0 284.6 M378.4 288.2 L397.0 291.8 L398.8 289.8 M397.0 291.8 L397.0 292.8" />
<ellipse class="k" cx="369.8" cy="283.6" rx="1.0" ry="0.6"/>
<path class="k" d="M379.6 287.6 L382.4 286.4 L382.4 287.4 L379.8 288.6Z" />
<path class="k" d="M396.8 292.6 h3.0 v4.2 h-3.0z" />
<path class="mw" d="M395.2 302.6 Q395.0 299.8 398.4 299.7 Q401.6 299.8 401.6 302.6 L401.2 306.6 Q400.6 308.2 398.4 308.2 Q396.2 308.2 395.8 306.6Z" />
<ellipse class="m" cx="398.4" cy="302.0" rx="3.0" ry="1.9"/>
<path class="m" d="M397.4 300.4 L400.0 301.0 L400.0 303.4 M398.6 300.4 L398.6 303.4" />
<path class="h" d="M395.3 303.0 L395.6 306.0" />
<path class="mw" d="M360.4 375.2 L383.4 361.8 L385.0 362.6 L384.8 364.2 L362.0 377.4 L360.6 376.6Z" />
<path class="k" d="M377.0 365.6 L384.0 361.6 L385.2 363.6 L378.2 367.6Z" />
<path class="t" d="M361.4 375.8 L377.6 366.6" />
<path class="mw" d="M356.2 389.4 L380.4 373.8 Q381.6 373.4 382.6 373.8 L387.6 377.0 L387.0 378.6 L361.8 392.8 L357.0 391.0Z" />
<path class="t" d="M357.0 391.0 L357.6 389.0 L381.4 375.2 L387.0 378.0" />
<path class="m" d="M360.0 388.0 l3.0 -1.8 l1.6 1.2 l-3.0 1.8z M365.0 385.0 l3.6 -2.2 l1.8 1.4 l-3.6 2.2z M370.6 381.6 l3.4 -2.0 l1.8 1.4 l-3.4 2.0z M376.6 378.4 l3.0 -1.8 l2.0 1.4 l-3.0 1.8z" />
<path class="k" d="M377.4 377.6 l2.6 -1.6 l1.4 2.6 l-2.4 1.2z M366.4 384.0 l2.0 -1.2 l0.8 2.0 l-1.8 1.0z" />
<path class="mw" d="M389.4 446.4 Q388.6 442.6 392.6 440.4 Q397.4 438.0 399.6 440.6 Q400.8 443.6 397.8 446.8 Q393.6 450.4 390.8 449.2 Q389.6 448.2 389.4 446.4Z" style="fill:#b8b8b8"/>
<path class="t" d="M390.6 448.6 Q390.0 444.6 393.6 442.6 Q397.6 440.4 399.8 441.6" />
<path class="t" d="M393.6 443.6 L393.8 448.6 M395.0 442.8 L395.2 447.8 M396.4 442.2 L396.6 446.6" />
<path class="h" d="M389.4 446.4 Q389.8 449.0 391.6 449.4" />
<path class="mw" d="M388.1 464.6 L416.8 448.2 L419.2 448.4 L421.3 451.1 L421.3 469.3 L391.6 487.5 L388.1 485.7Z" />
<path class="m" d="M388.40 466.60L392.40 468.80"/>
<path class="m" d="M388.40 468.60L392.40 470.80"/>
<path class="m" d="M388.40 470.60L392.40 472.80"/>
<path class="m" d="M388.40 472.60L392.40 474.80"/>
<path class="m" d="M388.40 474.60L392.40 476.80"/>
<path class="m" d="M388.40 476.60L392.40 478.80"/>
<path class="m" d="M388.40 478.60L392.40 480.80"/>
<path class="m" d="M388.40 480.60L392.40 482.80"/>
<path class="m" d="M388.40 482.60L392.40 484.80"/>
<path class="m" d="M388.40 484.60L392.40 486.80"/>
<path class="m" d="M392.6 467.2 L392.6 487.0" />
<path class="k" d="M393.4 480.4 L410.4 471.1 L421.0 469.6 L392.6 486.6Z" fill-opacity="0.55"/>
<path class="m" d="M394.00 480.07L393.20 485.64"/>
<path class="m" d="M396.00 478.98L395.20 484.44"/>
<path class="m" d="M398.00 477.89L397.20 483.24"/>
<path class="m" d="M400.00 476.80L399.20 482.04"/>
<path class="m" d="M402.00 475.71L401.20 480.84"/>
<path class="m" d="M404.00 474.62L403.20 479.64"/>
<path class="m" d="M406.00 473.53L405.20 478.44"/>
<path class="m" d="M408.00 472.44L407.20 477.24"/>
<path class="m" d="M410.00 471.35L409.20 476.04"/>
<path class="m" d="M412.00 470.26L411.20 474.84"/>
<path class="m" d="M414.00 469.17L413.20 473.64"/>
<path class="m" d="M416.00 468.08L415.20 472.44"/>
<path class="t" d="M388.1 464.6 L392.8 467.0 M416.4 453.6 L416.8 448.2 M416.8 452.9 L421.3 451.1" />
<path class="mw" d="M393.4 467.5 L415.1 455.2 L415.1 465.2 Q413.6 469.6 410.4 471.1 L393.4 480.4Z" />
<path class="t" d="M415.1 459.0 Q411.0 463.0 410.4 471.1" />
<path class="m" d="M416.8 452.9 L416.8 466.8 M418.4 452.4 L418.4 468.0" />
<path class="k" d="M418.6 454.0 l2.6 -1.0 l0 2.6 l-2.6 1.0z M418.6 460.0 l2.6 -1.0 l0 2.6 l-2.6 1.0z M418.6 466.0 l2.6 -1.0 l0 2.4 l-2.6 1.0z" fill-opacity="0.7"/>
<path class="mw" d="M403.3 476.3 L412.1 480.4 L411.0 482.2 L402.8 477.7Z" />
<path class="mw" d="M423.3 472.8 L444.4 463.4 L447.4 463.0 L448.4 464.6 L450.6 463.0 L452.6 463.4 L452.6 468.7 L451.4 470.5 L451.4 491.6 L433.2 501.5 L425.0 497.4 L423.8 484.5 L423.0 480.0Z" />
<path class="m" d="M433.2 477.5 L450.8 468.7 L451.4 491.6 L433.2 501.5Z" />
<path class="t" d="M434.6 478.6 L450.0 470.8 L450.2 490.6 L434.6 499.2Z" />
<ellipse class="m" cx="441.8" cy="485.0" rx="6.6" ry="8.2" transform="rotate(14 441.8 485)" style="fill:#8a8a8a"/>
<path class="k" d="M449.4 470.6 L451.4 470.5 L451.4 491.6 L449.8 492.4Z" fill-opacity="0.45"/>
<ellipse class="mw" cx="440.2" cy="485.0" rx="3.7" ry="4.8" transform="rotate(14 440.2 485.0)"/>
<path class="tw" d="M444.6 479.0 L447.6 481.6 L446.4 486.0 L444.4 484.0Z M438.0 491.2 L441.6 492.6 L444.6 490.0 L441.0 489.6Z M436.2 484.0 L436.8 489.4 L435.6 488.4Z" />
<path class="m" d="M423.8 484.5 Q424.6 482.4 427.4 483.2 L433.2 486.0 M425.0 491.2 L433.2 495.2 M424.0 478.6 Q427.0 476.6 429.6 478.4 L433.2 477.5" />
<path class="m" d="M423.3 472.8 L424.4 479.0 M426.6 471.6 L426.8 477.0 M429.4 470.2 L429.4 477.6" />
<path class="k" d="M427.0 471.4 L445.0 463.2 L448.0 465.6 L432.6 473.2 L432.8 476.4 L429.6 477.8 L429.2 473.8Z" fill-opacity="0.75"/>
<path class="mw" d="M433.6 471.2 L444.6 466.0 L445.6 467.6 L434.4 473.2Z" />
<path class="m" d="M447.6 466.0 L450.8 468.7 M444.4 463.4 L444.6 466.0" />
<path class="tw" d="M450.8 463.6 l1.2 0.4 l0 3.6 l-1.2 0.6z" />
<path class="mw" d="M428.6 463.6 Q428.8 462.2 430.4 462.2 Q432.2 462.3 432.3 463.8 L432.2 468.2 L428.8 468.4Z" />
<path class="h" d="M429.8 468.4 L429.8 472.4 M431.2 468.2 L431.2 472.0" />
<path class="k" d="M437.0 501.0 l2.0 -0.8 l0 1.4 l-2.0 0.6z" />
<path class="mw" d="M463.4 501.5 L479.0 492.4 L479.0 489.0 L476.4 484.0 Q476.0 480.6 479.0 479.6 Q481.4 479.2 485.2 482.7 L491.8 485.6 L491.8 493.6" />
<path class="k" d="M476.4 484.0 Q476.0 480.4 479.2 479.5 Q481.6 479.3 485.2 482.7 L485.0 489.4 L479.0 489.2Z" fill-opacity="0.6"/>
<path class="m" d="M477.20 481.20L479.00 486.20"/>
<path class="m" d="M478.80 481.70L480.50 486.70"/>
<path class="m" d="M480.40 482.20L482.00 487.20"/>
<path class="m" d="M482.00 482.70L483.50 487.70"/>
<path class="m" d="M483.60 483.20L485.00 488.20"/>
<path class="tw" d="M481.0 487.6 l2.2 1.0 l-1.0 1.4 l-2.2 -1.0z" />
<path class="m" d="M484.0 489.6 L490.9 486.2 M485.0 489.4 L485.0 493.4" />
<path class="mw" d="M464.0 508.7 L497.1 490.6 L497.8 491.6 L494.9 514.3 L462.1 532.75Z" />
<path class="t" d="M464.0 507.4 L486.5 495.2" />
<path class="t" d="M470.2 505.0 Q474.0 499.4 481.0 495.8 Q483.0 495.0 484.6 495.6" />
<path class="k" d="M479.0 498.6 L482.2 496.4 L482.8 497.6 L480.0 499.8Z" />
<path class="mw" d="M448.1 498.1 Q448.4 495.4 452.1 495.3 L463.4 501.5 L464.0 508.7 L462.1 532.75 L462.4 527.75 L451.2 522.1 L451.2 502.1 Q451.0 500.4 448.1 498.1Z" />
<path class="t" d="M462.4 527.75 L463.6 509.0" />
<path class="h" d="M451.60 503.40L456.60 505.80"/>
<path class="h" d="M451.60 505.25L456.60 507.65"/>
<path class="h" d="M451.60 507.10L456.60 509.50"/>
<path class="h" d="M451.60 508.95L456.60 511.35"/>
<path class="h" d="M451.60 510.80L456.60 513.20"/>
<path class="h" d="M451.60 512.65L456.60 515.05"/>
<path class="h" d="M451.60 514.50L456.60 516.90"/>
<path class="h" d="M451.60 516.35L456.60 518.75"/>
<path class="h" d="M451.60 518.20L456.60 520.60"/>
<path class="h" d="M451.60 520.05L456.60 522.45"/>
<path class="h" d="M451.60 521.90L456.60 524.30"/>
<path class="t" d="M456.8 505.4 L456.8 524.6" />
<circle class="k" cx="462.0" cy="532.9" r="0.8"/>
<path class="mw" d="M376.3 606.6 Q376.2 605.4 377.6 605.8 L391.0 612.4 Q392.2 613.2 392.2 614.6 L392.0 619.6 Q391.8 621.2 390.2 620.6 L377.0 614.0 Q376.0 613.4 376.0 612.0Z" />
<path class="k" d="M376.6 606.4 L378.4 607.6 L378.4 614.0 L387.6 618.6 L387.6 612.0 L378.4 607.6" fill-opacity="0.7"/>
<path class="tw" d="M380.4 610.2 l0 3.2 M382.6 611.2 l0 3.4 M384.8 612.4 l0 3.4" style="stroke:#ccc;stroke-width:0.7"/>
<path class="m" d="M387.6 612.0 L390.4 613.6 L390.4 619.6" />
<path class="mw" d="M388.6 602.4 Q388.2 601.2 389.6 601.0 L395.0 604.4 Q395.6 605.6 394.8 606.2 Q394.0 606.6 393.2 606.2 L388.6 603.4Z" />
<path class="m" d="M394.8 606.0 L398.6 608.4 M395.2 604.6 L399.2 604.4 M394.4 605.0 L397.2 608.6" />
<path class="mw" d="M73.4 680.0 Q72.6 672.0 69.6 666.4 Q69.4 664.8 70.6 664.6 Q71.8 664.6 72.2 665.8 Q74.8 672.0 75.4 679.6" />
<path class="mw" d="M76.4 679.8 L78.4 659.3 L80.2 659.3 L78.4 680.0" />
<path class="m" d="M75.0 679.4 L77.4 667.4" />
<path class="mw" d="M76.2 659.3 L76.2 654.0 Q76.4 652.3 78.2 652.3 Q80.0 652.4 80.2 654.0 L80.2 659.3Z" />
<path class="t" d="M76.6 655.6 L79.8 655.6 M76.6 657.6 L79.8 657.6" />
<path class="mw" d="M70.3 682.4 Q70.4 680.4 74.5 680.3 Q78.6 680.4 78.7 682.4 L78.7 708.6 L76.2 711.5 L73.0 711.5 L70.3 708.6Z" />
<path class="m" d="M70.3 682.6 Q74.5 685.0 78.7 682.6" />
<path class="t" d="M71.6 684.6 L71.6 708.0" />
<path class="mw" d="M73.2 711.5 L73.2 723.0 Q73.4 724.4 74.5 724.4 Q75.7 724.4 75.8 723.0 L75.8 711.5" />
<path class="mw" d="M67.6 735.0 L73.4 731.2 L78.1 733.2 L78.1 740.8 L72.4 744.4 L67.8 742.0Z" />
<path class="m" d="M67.6 735.0 L72.4 737.2 L78.1 733.2 M72.4 737.2 L72.4 744.4" />
<path class="k" d="M70.4 733.6 L73.2 732.4 L75.4 733.4 L72.6 735.0Z" fill-opacity="0.7"/>
<path class="mw" d="M68.6 742.4 L68.8 749.6 L71.6 752.2 L74.6 750.2 L74.6 744.0" />
<path class="m" d="M68.8 749.6 L71.8 748.0 L74.6 750.2 M71.8 748.0 L71.8 744.2" />
<path class="mw" d="M76.0 742.2 L76.2 746.4 L79.6 747.8 L81.4 746.6 L79.4 744.6 L78.1 740.8" />
<path class="k" d="M74.6 744.6 L76.8 743.6 L77.4 746.4 L75.0 747.4Z" fill-opacity="0.7"/>
<path class="h" d="M67.6 735.0 L67.8 742.0" />
<path class="mw" d="M393.7 730.0 L393.7 727.0 Q394.2 725.2 395.9 725.2 Q397.6 725.3 398.0 727.0 L398.0 730.0 Q399.6 730.8 399.6 732.2 Q399.0 733.8 395.9 733.8 Q392.6 733.8 392.1 732.2 Q392.2 730.8 393.7 730.0Z" />
<path class="m" d="M393.7 730.0 Q395.8 731.2 398.0 730.0" />
<path class="h" d="M392.2 731.8 Q392.6 733.8 395.9 733.8" />
<path class="mw" d="M394.3 736.4 Q395.6 735.6 396.8 736.4 L396.9 741.6 Q396.0 744.4 392.4 744.6 L390.4 744.6 L394.0 742.0Z" />
<path class="mw" d="M369.6 735.6 Q371.6 732.8 373.6 733.6 L375.6 734.8 Q379.0 734.2 383.0 735.0 L393.8 737.6 Q395.6 739.6 394.0 742.0 L390.4 744.6 L382.0 745.2 L372.4 745.8 Q369.0 746.2 368.2 743.4 Q367.4 741.2 369.4 740.6 L371.0 740.2 Q368.6 738.2 369.6 735.6Z" />
<path class="m" d="M368.2 743.4 Q369.6 741.8 372.0 742.6 L382.0 743.8 L392.0 742.2 L394.6 739.8" />
<path class="t" d="M381.6 738.6 L392.4 739.8 M381.6 741.2 L391.6 741.6 M381.6 738.6 L381.6 741.2" />
<ellipse class="g" cx="372.4" cy="736.4" rx="0.9" ry="0.55"/>
<ellipse class="g" cx="376.6" cy="738.2" rx="0.9" ry="0.55"/>
<ellipse class="g" cx="380.0" cy="737.0" rx="0.9" ry="0.55"/>
<ellipse class="g" cx="374.6" cy="740.6" rx="0.9" ry="0.55"/>
<ellipse class="g" cx="378.6" cy="741.2" rx="0.9" ry="0.55"/>
<ellipse class="g" cx="371.0" cy="743.8" rx="0.9" ry="0.55"/>
<path class="k" d="M369.0 750.0 h1.6 v3.4 h0.9 v1.4 l-1.7 1.2 l-1.7 -1.2 v-1.4 h0.9z" />
<path class="k" d="M373.6 748.4 h1.5 v3.0 h0.8 v1.2 l-1.55 1.0 l-1.55 -1.0 v-1.2 h0.8z" />
<path class="k" d="M380.6 749.4 h1.6 v3.2 h0.9 v1.4 l-1.7 1.2 l-1.7 -1.2 v-1.4 h0.9z" />
<path class="mw" d="M376.40 767.00 L376.40 759.00 Q377.50 757.60 378.60 759.00 L378.60 767.00" />
<ellipse class="mw" cx="377.5" cy="767.60" rx="4.1" ry="2.3"/>
<path class="m" d="M373.40 767.60 L374.10 769.80 Q377.50 771.40 380.90 769.80 L381.60 767.60" />
<path class="mw" d="M376.40 766.80 L376.40 759.00 Q377.50 757.60 378.60 759.00 L378.60 766.80" />
<path class="t" d="M375.90 767.80 Q377.50 769.00 379.10 767.80" />
<path class="mw" d="M251.90 817.40 L251.90 810.00 Q253.00 808.60 254.10 810.00 L254.10 817.40" />
<ellipse class="mw" cx="253.0" cy="818.00" rx="4.1" ry="2.3"/>
<path class="m" d="M248.90 818.00 L249.60 820.20 Q253.00 821.80 256.40 820.20 L257.10 818.00" />
<path class="mw" d="M251.90 817.20 L251.90 810.00 Q253.00 808.60 254.10 810.00 L254.10 817.20" />
<path class="t" d="M251.40 818.20 Q253.00 819.40 254.60 818.20" />
<ellipse class="mw" cx="264.5" cy="779.3" rx="2.0" ry="3.2" transform="rotate(28 264.5 779.3)"/>
<ellipse class="mw" cx="251.9" cy="785.3" rx="2.0" ry="3.0" transform="rotate(28 251.9 785.3)"/>
<path class="mw" d="M681.4 402.3 L782.5 343.2 L798.6 352.9 L698.3 411.3Z" />
<path class="m" d="M681.4 402.3 L681.4 412.4 L691.6 415.8 L698.3 411.3 M681.4 412.4 L690.5 407.0" />
<path class="mw" d="M693.8 393.4 Q693.2 392.0 694.6 391.2 L766.0 349.6 Q767.6 348.8 769.4 349.6 L772.6 351.2 Q773.6 351.8 772.4 352.6 L699.0 395.6 Q697.6 396.4 696.2 395.6Z" />
<path class="t" d="M694.4 393.0 L768.0 350.4" />
<path class="m" d="M700.00 390.06L701.20 391.86"/>
<path class="m" d="M704.60 387.37L705.80 389.17"/>
<path class="m" d="M709.20 384.68L710.40 386.48"/>
<path class="m" d="M722.40 376.96L723.60 378.76"/>
<path class="m" d="M727.20 374.15L728.40 375.95"/>
<path class="m" d="M732.00 371.34L733.20 373.14"/>
<path class="m" d="M736.80 368.53L738.00 370.33"/>
<path class="m" d="M741.60 365.72L742.80 367.52"/>
<path class="m" d="M746.40 362.92L747.60 364.72"/>
<path class="m" d="M758.00 356.13L759.20 357.93"/>
<circle class="tw" cx="743.9" cy="378.1" r="1.4"/>
<path class="mw" d="M677.0 425.0 Q677.2 423.4 679.0 422.4 L826.6 336.2 Q829.6 334.6 832.0 335.8 L834.6 337.4 L684.0 426.0Z" />
<path class="t" d="M678.2 425.2 L830.4 336.6 M680.2 427.2 L833.0 337.6" />
<path class="mw" d="M661.2 438.2 L862.3 321.4 L865.2 323.2 L865.6 342.1 L664.6 458.5 L662.4 457.3Z" />
<path class="m" d="M664.6 440.9 L865.2 323.9" />
<path class="m" d="M664.6 440.9 L664.6 458.5" />
<path class="t" d="M662.8 440.0 L662.8 457.0" />
<path class="h" d="M664.6 458.5 L865.6 342.1" />
<circle class="mw" cx="830.6" cy="355.9" r="3.0"/>
<path class="t" d="M829.4 357.4 L830.6 353.6 L831.8 357.0 M830.6 355.4 L830.6 358.4" />
<path class="mw" d="M791.4 332.4 L796.4 329.6 L801.8 332.4 L802.4 338.6 L796.6 341.8 L791.8 338.8Z" />
<path class="m" d="M791.4 332.4 L796.6 335.0 L801.8 332.4 M796.6 335.0 L796.6 341.8" />
<path class="k" d="M789.0 331.6 L791.4 332.8 L791.4 334.0 L789.0 332.8Z M792.4 329.6 L794.6 330.4 L793.6 331.2 L792.0 330.6Z" />
<path class="k" d="M798.6 336.0 L801.6 334.4 L802.0 338.8 L799.0 340.4Z" fill-opacity="0.75"/>
<ellipse class="mw" cx="801.6" cy="337.8" rx="1.5" ry="1.3"/>
<path class="h" d="M792.4 334.4 L792.6 338.4" />
<rect x="971.6" y="237.0" width="35.6" height="34.4" fill="#fff" stroke="#3a3a3a" stroke-width="1.2"/>
<path class="t" d="M971.6 238.4 L982.0 238.4 L988.2 251.0 L982.0 263.6 L971.6 263.6" style="stroke-width:0.9"/>
<path class="k" d="M971.6 237.6 L980.5 237.6 L981.0 239.0 L971.6 239.0Z" />
<path class="t" d="M971.6 244.0 A7.2 7.2 0 0 1 971.6 258.4" style="stroke-width:0.9"/>
<path class="t" d="M971.6 246.4 A4.8 4.8 0 0 1 971.6 256.0" />
<path class="t" d="M981.0 239.0 L987.0 251.0 L981.0 262.8" />
<path class="k" d="M995.4 271.0 L995.4 254.4 Q990.6 251.6 990.8 245.6 L994.0 248.6 L997.6 247.6 L998.4 243.6 L995.6 240.6 Q1001.4 240.0 1004.0 245.0 Q1005.8 250.0 1001.6 254.0 L1001.6 271.0Z" style="fill:#000"/>
<rect x="971.6" y="303.2" width="35.6" height="34.6" fill="#fff" stroke="#3a3a3a" stroke-width="1.2"/>
<path class="t" d="M978.40 304.40L978.40 336.60"/>
<path class="t" d="M981.95 304.40L981.95 336.60"/>
<path class="t" d="M985.50 304.40L985.50 336.60"/>
<path class="t" d="M989.05 304.40L989.05 336.60"/>
<path class="t" d="M992.60 304.40L992.60 336.60"/>
<path class="t" d="M996.15 304.40L996.15 336.60"/>
<path class="t" d="M999.70 304.40L999.70 336.60"/>
<path class="m" d="M1003.0 308.4 L980.0 308.4 A4.2 4.2 0 0 0 980.0 316.8 L999.0 316.8 A4.25 4.25 0 0 1 999.0 325.3 L980.0 325.3 A4.0 4.0 0 0 0 980.0 333.3 L1003.0 333.3" style="stroke:#000;stroke-width:2.7;stroke-linecap:butt"/>
</svg>
</body></html>
